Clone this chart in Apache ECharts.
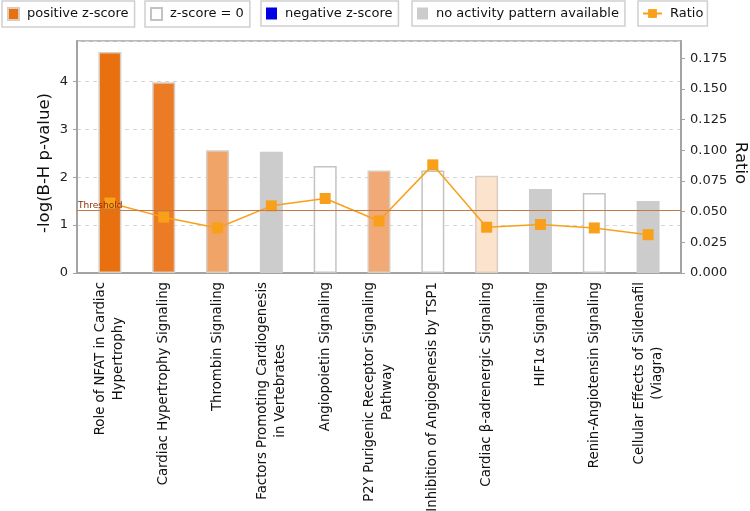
<!DOCTYPE html>
<html>
<head>
<meta charset="utf-8">
<script src="https://cdn.jsdelivr.net/npm/echarts@6/dist/echarts.min.js"></script>
<style>html,body{margin:0;padding:0;background:#fff;}#c{width:750px;height:511px;}</style>
</head>
<body>
<div id="c"></div>
<script>
// ---- data ----
const categories = [
  "Role of NFAT in Cardiac\nHypertrophy",
  "Cardiac Hypertrophy Signaling",
  "Thrombin Signaling",
  "Factors Promoting Cardiogenesis\nin Vertebrates",
  "Angiopoietin Signaling",
  "P2Y Purigenic Receptor Signaling\nPathway",
  "Inhibition of Angiogenesis by TSP1",
  "Cardiac \u03b2-adrenergic Signaling",
  "HIF1\u03b1 Signaling",
  "Renin-Angiotensin Signaling",
  "Cellular Effects of Sildenafil\n(Viagra)"
];
const logP = [4.61, 3.98, 2.56, 2.53, 2.23, 2.14, 2.14, 2.03, 1.75, 1.67, 1.50];
const ratio = [0.057, 0.0455, 0.0367, 0.0547, 0.0607, 0.0424, 0.0881, 0.0373, 0.0395, 0.0367, 0.0312];
const zClass = ["pos", "pos", "pos", "none", "zero", "pos", "zero", "pos", "none", "zero", "none"];
const threshold = 1.3;
const leftTicks = [0, 1, 2, 3, 4];
const rightTicks = [0, 0.025, 0.05, 0.075, 0.1, 0.125, 0.15, 0.175];
const legendNames = ["positive z-score", "z-score = 0", "negative z-score", "no activity pattern available", "Ratio"];

// ---- styles ----
const FONT = "DejaVu Sans";
const posShades = ["#E8700F", "#EB7B25", "#F0A468", null, null, "#F1AA76", null, "#FBE3CE", null, null, null];
const leftMax = 4.84, rightMax = 0.189;
const axisGray = "#a3a3a3";

function classData(cls) {
  return logP.map((v, i) => {
    if (zClass[i] !== cls) return "-";
    if (cls === "pos") {
      return { value: v, itemStyle: { color: posShades[i] } };
    }
    return v;
  });
}

const barCommon = {
  type: "bar", xAxisIndex: 1, yAxisIndex: 2, barWidth: 23, barGap: "-100%",
  silent: true
};

function legendBox(name, left, extra) {
  return Object.assign({
    data: [{ name: name, icon: "rect" }], left: left, top: 1, orient: "horizontal",
    selectedMode: false,
    borderColor: "#cfcfcf", borderWidth: 1.5, borderRadius: 0,
    padding: [6, 6, 6, 5],
    itemWidth: 11, itemHeight: 12,
    textStyle: { fontFamily: FONT, fontSize: 13, color: "#111", padding: [0, 0, 0, 3] }
  }, extra || {});
}

const option = {
  animation: false,
  backgroundColor: "#fff",
  legend: [
    legendBox(legendNames[0], 2),
    legendBox(legendNames[1], 145),
    legendBox(legendNames[2], 261),
    legendBox(legendNames[3], 412),
    legendBox(legendNames[4], 638, { data: [legendNames[4]], itemWidth: 19, itemHeight: 11, padding: [6, 4, 6, 4] })
  ],
  grid: [
    { left: 77, right: 69, top: 41, bottom: 238, show: true, borderColor: axisGray, borderWidth: 1.5,
      backgroundColor: "transparent", outerBoundsMode: "none", containLabel: false },
    { left: 83, right: 75, top: 41, bottom: 238, outerBoundsMode: "none", containLabel: false }
  ],
  xAxis: [
    { type: "value", gridIndex: 0, min: 0, max: 1,
      axisLine: { show: true, lineStyle: { color: axisGray, width: 2 } },
      axisTick: { show: false }, axisLabel: { show: false }, splitLine: { show: false } },
    { type: "category", gridIndex: 1, data: categories,
      axisLine: { show: false }, axisTick: { show: false }, splitLine: { show: false },
      axisLabel: {
        interval: 0, rotate: 90, margin: 9,
        formatter: v => v.split("\n").map(l => "{c|" + l + "}").join("\n"),
        rich: { c: { fontFamily: FONT, fontSize: 13.3, lineHeight: 18, align: "center", color: "#111" } }
      } }
  ],
  yAxis: [
    { type: "value", gridIndex: 0, position: "left", min: 0, max: leftMax, interval: 1,
      name: "-log(B-H p-value)", nameLocation: "middle", nameGap: 24, nameMoveOverlap: false,
      nameTextStyle: { fontFamily: FONT, fontSize: 16.5, color: "#111", padding: [0, 12, 0, 0] },
      axisLine: { show: true, lineStyle: { color: axisGray, width: 2 } },
      axisTick: { show: true, length: 4, lineStyle: { color: axisGray } },
      axisLabel: { margin: 9, showMaxLabel: false, fontFamily: FONT, fontSize: 13, color: "#222",
        formatter: v => (leftTicks.indexOf(v) >= 0 ? String(v) : "") },
      splitLine: { show: true, lineStyle: { color: "#d6d6d6", type: [4, 4], width: 1 } } },
    { type: "value", gridIndex: 0, position: "right", min: 0, max: rightMax, interval: 0.025,
      name: "Ratio", nameLocation: "middle", nameGap: 51, nameRotate: -90, nameMoveOverlap: false,
      nameTextStyle: { fontFamily: FONT, fontSize: 16.5, color: "#111", padding: [0, 0, 0, 12] },
      axisLine: { show: true, lineStyle: { color: axisGray, width: 2 } },
      axisTick: { show: true, length: 4, lineStyle: { color: axisGray } },
      axisLabel: { margin: 9, showMaxLabel: false, fontFamily: FONT, fontSize: 13, color: "#222",
        formatter: v => (rightTicks.some(t => Math.abs(t - v) < 1e-9) ? v.toFixed(3) : "") },
      splitLine: { show: false } },
    { type: "value", gridIndex: 1, min: 0, max: leftMax, show: false },
    { type: "value", gridIndex: 1, min: 0, max: rightMax, show: false }
  ],
  series: [
    Object.assign({}, barCommon, { name: legendNames[0], data: classData("pos"),
      itemStyle: { color: "#E8700F", borderColor: "#d9cdc2", borderWidth: 1.5 } }),
    Object.assign({}, barCommon, { name: legendNames[1], data: classData("zero"),
      itemStyle: { color: "#ffffff", borderColor: "#c3c3c3", borderWidth: 1.5 } }),
    Object.assign({}, barCommon, { name: legendNames[2], data: classData("neg"),
      itemStyle: { color: "#0000E6" } }),
    Object.assign({}, barCommon, { name: legendNames[3], data: classData("none"),
      itemStyle: { color: "#cccccc" } }),
    { type: "line", name: legendNames[4], xAxisIndex: 1, yAxisIndex: 3, data: ratio,
      symbol: "rect", symbolSize: 11, z: 10,
      itemStyle: { color: "#F9A01B" },
      lineStyle: { color: "#F9A01B", width: 1.5 } },
    { type: "line", name: "thresholdHost", xAxisIndex: 0, yAxisIndex: 0,
      data: [[0.5, 0]], showSymbol: false, symbol: "none", lineStyle: { opacity: 0 }, silent: true,
      z: 12,
      markLine: {
        z: 20,
        silent: true, symbol: ["none", "none"], animation: false,
        lineStyle: { color: "#C47A45", width: 1.2, type: "solid" },
        label: { show: true, position: "insideStartTop", formatter: "Threshold", distance: [1, 1],
          fontFamily: FONT, fontSize: 9, color: "#8B2E0A" },
        data: [{ yAxis: threshold }]
      } }
  ]
};

const chart = echarts.init(document.getElementById("c"), null, { renderer: "canvas" });
chart.setOption(option);
</script>
</body>
</html>
